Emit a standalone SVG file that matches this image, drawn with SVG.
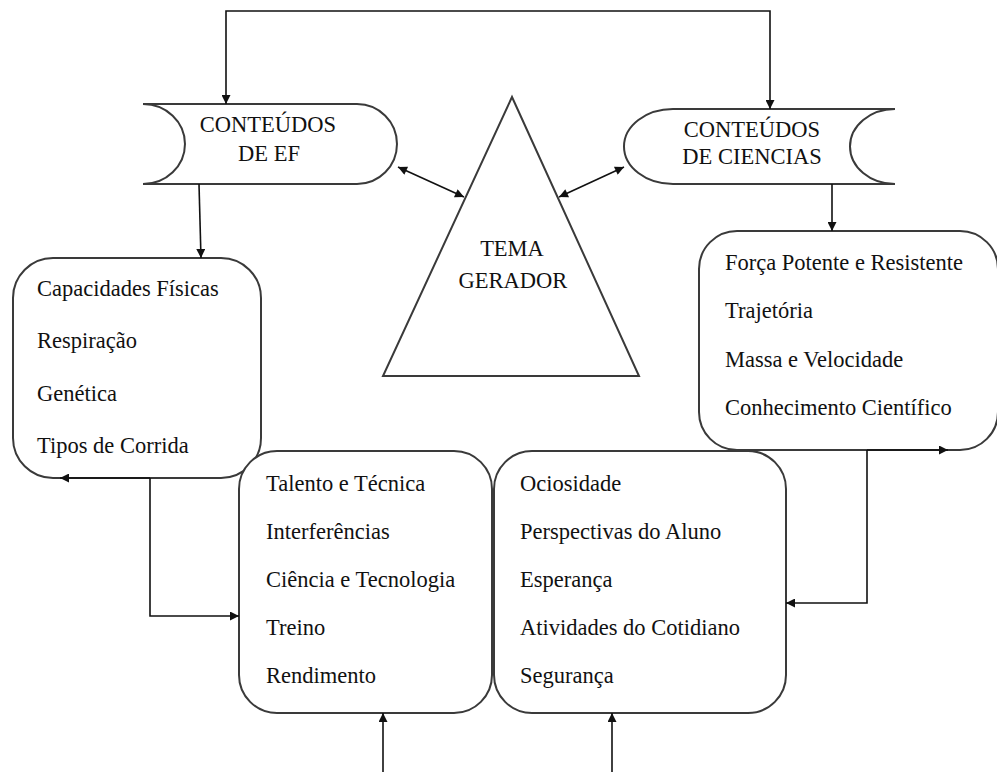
<svg xmlns="http://www.w3.org/2000/svg" width="997" height="772" viewBox="0 0 997 772">
<style>
.shape{fill:#fff;stroke:#3a3a3a;stroke-width:2}
.conn{fill:none;stroke:#111;stroke-width:1.6}
.t{font-family:"Liberation Serif","Times New Roman",serif;font-size:22.5px;fill:#111}
.c{text-anchor:middle}
</style>
<defs>
<marker id="ah" viewBox="0 0 10 10" refX="10" refY="5" markerWidth="11" markerHeight="9" markerUnits="userSpaceOnUse" orient="auto-start-reverse">
<path d="M0,0 L10,5 L0,10 Z" fill="#111"/>
</marker>
</defs>
<rect width="997" height="772" fill="#fff"/>

<g id="conteudos-ef">
<path class="shape" d="M143,104 L357,104 A40,40 0 0 1 357,184 L143,184 A42,40 0 0 0 143,104 Z"/>
<text class="t c" x="268" y="132">CONTEÚDOS</text>
<text class="t c" x="269" y="161">DE EF</text>
</g>

<g id="conteudos-ciencias">
<path class="shape" d="M673,109 L895,109 A45,37.5 0 0 0 895,184 L673,184 A49,37.5 0 0 1 673,109 Z"/>
<text class="t c" x="752" y="137">CONTEÚDOS</text>
<text class="t c" x="752" y="164">DE CIENCIAS</text>
</g>

<g id="tema-gerador">
<path class="shape" d="M512,97 L639,376 L383,376 Z"/>
<text class="t c" x="512" y="256">TEMA</text>
<text class="t c" x="513" y="288">GERADOR</text>
</g>

<g id="box-ef">
<rect class="shape" x="13" y="258" width="248" height="220" rx="40" ry="40"/>
<text class="t" x="37" y="296">Capacidades Físicas</text>
<text class="t" x="37" y="348">Respiração</text>
<text class="t" x="37" y="401">Genética</text>
<text class="t" x="37" y="453">Tipos de Corrida</text>
</g>

<g id="box-ciencias">
<rect class="shape" x="699" y="231" width="299" height="219" rx="38" ry="38"/>
<text class="t" x="725" y="270">Força Potente e Resistente</text>
<text class="t" x="725" y="318">Trajetória</text>
<text class="t" x="725" y="367">Massa e Velocidade</text>
<text class="t" x="725" y="415">Conhecimento Científico</text>
</g>

<g id="box-talento">
<rect class="shape" x="239" y="451" width="253" height="262" rx="38" ry="38"/>
<text class="t" x="266" y="491">Talento e Técnica</text>
<text class="t" x="266" y="539">Interferências</text>
<text class="t" x="266" y="587">Ciência e Tecnologia</text>
<text class="t" x="266" y="635">Treino</text>
<text class="t" x="266" y="683">Rendimento</text>
</g>

<g id="box-ociosidade">
<rect class="shape" x="494" y="451" width="292" height="262" rx="38" ry="38"/>
<text class="t" x="520" y="491">Ociosidade</text>
<text class="t" x="520" y="539">Perspectivas do Aluno</text>
<text class="t" x="520" y="587">Esperança</text>
<text class="t" x="520" y="635">Atividades do Cotidiano</text>
<text class="t" x="520" y="683">Segurança</text>
</g>

<g id="connectors">
<path class="conn" d="M226,104 L226,11 L770,11 L770,109" marker-start="url(#ah)" marker-end="url(#ah)"/>
<path class="conn" d="M199,184 L201,258" marker-end="url(#ah)"/>
<path class="conn" d="M832,184 L832,231" marker-end="url(#ah)"/>
<path class="conn" d="M398,167 L464,197" marker-start="url(#ah)" marker-end="url(#ah)"/>
<path class="conn" d="M559,197 L624,167" marker-start="url(#ah)" marker-end="url(#ah)"/>
<path class="conn" d="M150,478 L60,478" marker-end="url(#ah)"/>
<path class="conn" d="M150,478 L150,616 L239,616" marker-end="url(#ah)"/>
<path class="conn" d="M867,450 L948,450" marker-end="url(#ah)"/>
<path class="conn" d="M867,450 L867,603 L786,603" marker-end="url(#ah)"/>
<path class="conn" d="M383,772 L383,713" marker-end="url(#ah)"/>
<path class="conn" d="M612,772 L612,713" marker-end="url(#ah)"/>
</g>
</svg>
